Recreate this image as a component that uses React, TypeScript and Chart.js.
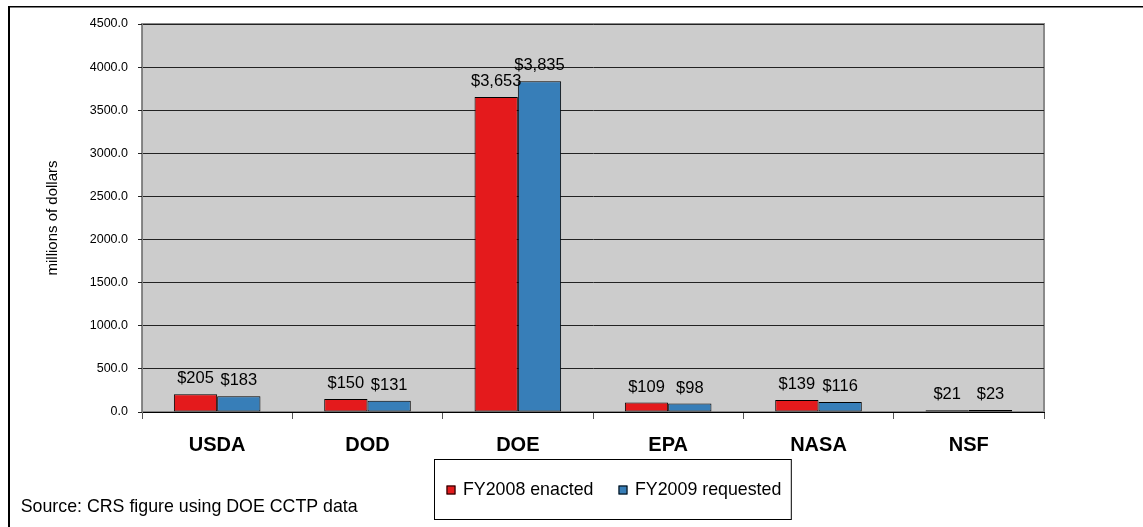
import { useEffect, useRef } from 'react';
import { Chart, registerables } from 'chart.js';

Chart.register(...registerables);

const agencies = ['USDA', 'DOD', 'DOE', 'EPA', 'NASA', 'NSF'];
const fy2008Enacted = [205, 150, 3653, 109, 139, 21];
const fy2009Requested = [183, 131, 3835, 98, 116, 23];
const seriesNames = ['FY2008 enacted', 'FY2009 requested'];
const seriesColors = ['#E41A1C', '#377EB8'];
const yMin = 0;
const yMax = 4500;
const yStep = 500;
const yAxisTitle = 'millions of dollars';
const sourceNote = 'Source: CRS figure using DOE CCTP data';

const FONT = '"Liberation Sans", Arial, sans-serif';
const W = 1143;
const H = 527;

const framePlugin = {
  id: 'frame',
  beforeDraw(chart: any) {
    const { ctx, chartArea: a } = chart;
    ctx.save();
    ctx.fillStyle = '#ffffff';
    ctx.fillRect(0, 0, chart.width, chart.height);
    ctx.fillStyle = '#000000';
    ctx.fillRect(8, 6, 2, chart.height - 6);
    ctx.fillRect(8, 6, chart.width - 8, 1.5);
    ctx.fillStyle = '#CCCCCC';
    ctx.fillRect(a.left, a.top, a.right - a.left, a.bottom - a.top);
    ctx.strokeStyle = '#8a8a8a';
    ctx.lineWidth = 2;
    ctx.strokeRect(a.left, a.top, a.right - a.left, a.bottom - a.top);
    ctx.restore();
  },
};

const valueLabelPlugin = {
  id: 'valueLabels',
  afterDatasetsDraw(chart: any) {
    const { ctx } = chart;
    ctx.save();
    ctx.font = `16.5px ${FONT}`;
    ctx.fillStyle = '#000';
    ctx.textAlign = 'center';
    ctx.textBaseline = 'alphabetic';
    chart.data.datasets.forEach((ds: any, i: number) => {
      const meta = chart.getDatasetMeta(i);
      meta.data.forEach((bar: any, j: number) => {
        const v = ds.data[j] as number;
        ctx.fillText('$' + v.toLocaleString('en-US'), bar.x, bar.y - 11);
      });
    });
    ctx.restore();
  },
};

const legendAndNotePlugin = {
  id: 'legendNote',
  afterDraw(chart: any) {
    const { ctx } = chart;
    ctx.save();
    ctx.font = `17.8px ${FONT}`;
    const items = chart.data.datasets.map((ds: any) => ({
      label: ds.label as string,
      color: ds.backgroundColor as string,
      w: ctx.measureText(ds.label).width,
    }));
    const sq = 9;
    const gapSqText = 7.5;
    const itemGap = 25;
    const padL = 12;
    const padR = 10;
    let boxW = padL + padR + itemGap * (items.length - 1);
    items.forEach((it: any) => (boxW += sq + gapSqText + it.w));
    const boxLeft = 434.5;
    const boxTop = 459.5;
    const boxH = 60;
    ctx.strokeStyle = '#000';
    ctx.lineWidth = 1;
    ctx.fillStyle = '#fff';
    ctx.fillRect(boxLeft, boxTop, boxW, boxH);
    ctx.strokeRect(boxLeft, boxTop, boxW, boxH);
    const cy = 490;
    let x = boxLeft + padL;
    items.forEach((it: any) => {
      ctx.fillStyle = it.color;
      ctx.fillRect(x, cy - sq / 2, sq, sq);
      ctx.strokeStyle = '#000';
      ctx.strokeRect(x + 0.5, cy - sq / 2 + 0.5, sq - 1, sq - 1);
      ctx.fillStyle = '#000';
      ctx.textAlign = 'left';
      ctx.textBaseline = 'middle';
      ctx.fillText(it.label, x + sq + gapSqText, cy);
      x += sq + gapSqText + it.w + itemGap;
    });
    ctx.textBaseline = 'alphabetic';
    ctx.fillText(sourceNote, 20.7, 511.7);
    ctx.restore();
  },
};

export default function App() {
  const canvasRef = useRef<HTMLCanvasElement | null>(null);

  useEffect(() => {
    if (!canvasRef.current) return;
    const chart = new Chart(canvasRef.current, {
      type: 'bar',
      data: {
        labels: agencies,
        datasets: [
          {
            label: seriesNames[0],
            data: fy2008Enacted,
            backgroundColor: seriesColors[0],
            borderColor: '#000',
            borderWidth: 1,
            borderSkipped: false,
            categoryPercentage: 0.576,
            barPercentage: 1,
          },
          {
            label: seriesNames[1],
            data: fy2009Requested,
            backgroundColor: seriesColors[1],
            borderColor: '#000',
            borderWidth: 1,
            borderSkipped: false,
            categoryPercentage: 0.576,
            barPercentage: 1,
          },
        ],
      },
      options: {
        responsive: false,
        animation: false,
        devicePixelRatio: 1,
        layout: { padding: { left: 0, top: 24, right: 99, bottom: 0 } },
        plugins: {
          legend: { display: false },
          tooltip: { enabled: false },
          title: { display: false },
        },
        scales: {
          x: {
            grid: {
              display: true,
              drawOnChartArea: false,
              drawTicks: true,
              tickLength: 7,
              color: '#555',
              offset: true,
            },
            border: { display: true, color: '#000', width: 1 },
            ticks: {
              font: { family: FONT, size: 20, weight: 'bold' },
              color: '#000',
              padding: 14,
              maxRotation: 0,
            },
            afterFit(s: any) {
              s.height = 115;
            },
          },
          y: {
            min: yMin,
            max: yMax,
            ticks: {
              stepSize: yStep,
              callback: (v: any) => Number(v).toFixed(1),
              font: { family: FONT, size: 12.5 },
              color: '#000',
              padding: 10,
            },
            grid: { color: '#222', lineWidth: 1, tickLength: 4, drawTicks: true },
            border: { color: '#808080', width: 1 },
            title: {
              display: true,
              text: yAxisTitle,
              font: { family: FONT, size: 15 },
              color: '#000',
              padding: { top: 44, bottom: 0 },
            },
            afterFit(s: any) {
              s.width = 142;
            },
          },
        },
      } as any,
      plugins: [framePlugin, valueLabelPlugin, legendAndNotePlugin],
    });
    return () => chart.destroy();
  }, []);

  return (
    <div style={{ position: 'fixed', left: 0, top: 0, width: W, height: H, background: '#fff' }}>
      <canvas ref={canvasRef} width={W} height={H} style={{ display: 'block' }} />
    </div>
  );
}
